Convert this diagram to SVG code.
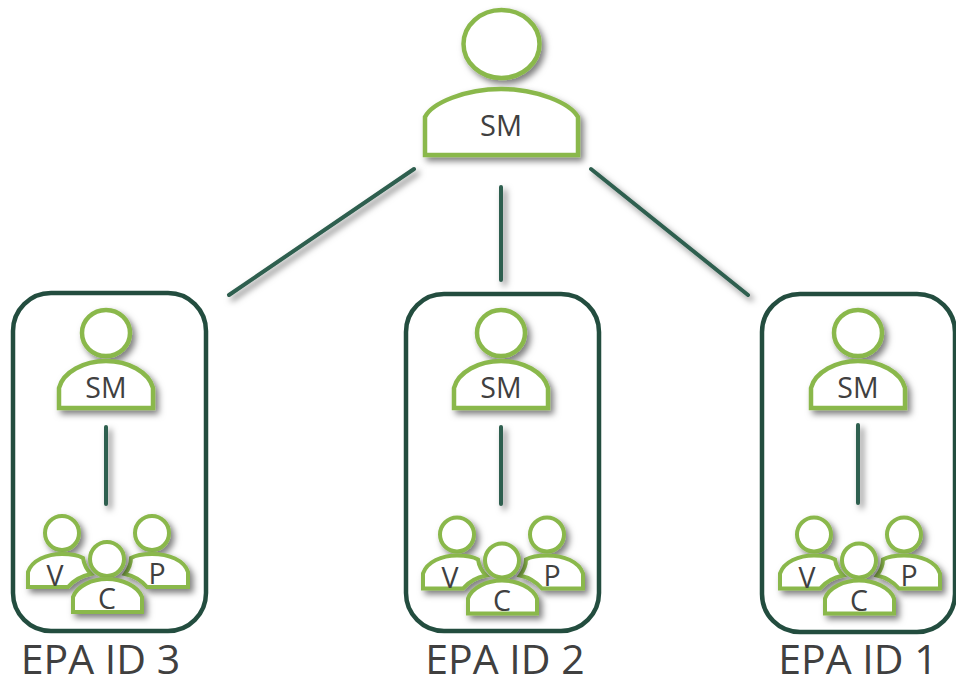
<svg xmlns="http://www.w3.org/2000/svg" width="956" height="679" viewBox="0 0 956 679">
<style>
.p{fill:#fff;stroke:#8ab84c;stroke-width:4.5;stroke-linejoin:miter}
.ps{stroke-width:4}
.box{fill:#fff;stroke:#234d3f;stroke-width:4.5}
.l{fill:none;stroke:#2f5f4f;stroke-width:4;stroke-linecap:round}
text{font-family:"Open Sans","Noto Sans","Liberation Sans",sans-serif;fill:#404040;text-anchor:middle}
.t1{font-size:29px}
.t2{font-size:28.5px}
.t3{font-size:41px}
</style>
<defs>
<filter id="s" filterUnits="userSpaceOnUse" x="0" y="0" width="956" height="679"><feDropShadow dx="3.5" dy="4" stdDeviation="3" flood-color="#000" flood-opacity="0.5"/></filter>
<g id="sm">
<ellipse class="p" cx="106" cy="333" rx="24" ry="23" filter="url(#s)"/>
<path class="p" d="M59 408V388C63 372 84 361 106 361C128 361 149 372 153 388V408Z" filter="url(#s)"/>
<text class="t2" x="106" y="398">SM</text>
</g>
<g id="team">
<circle class="p ps" cx="62" cy="533" r="17" filter="url(#s)"/>
<path class="p ps" d="M28 587V572C32 560 47 554 62 554C70 554 78 555 83 558C84 565 87 570 91 574C81 576 74 580 68 587Z" filter="url(#s)"/>
<text class="t2" x="55" y="586">V</text>
<circle class="p ps" cx="152" cy="533" r="17" filter="url(#s)"/>
<path class="p ps" d="M188 587V572C184 560 169 554 152 554C144 554 136 555 131 558C131 565 128 570 125 574C134 576 141 580 147 587Z" filter="url(#s)"/>
<text class="t2" x="157" y="584">P</text>
<circle class="p ps" cx="107" cy="559" r="17" filter="url(#s)"/>
<path class="p ps" d="M73 612V597C77 586 92 579 107 579C122 579 138 586 142 597V612Z" filter="url(#s)"/>
<text class="t2" x="107" y="609">C</text>
</g>
</defs>
<g id="connectors">
<path class="l" d="M414 169L229 295M501 187V280M591 169L748 295" filter="url(#s)"/>
</g>
<g id="top-sm">
<ellipse class="p" cx="501.5" cy="44" rx="38" ry="34" filter="url(#s)"/>
<path class="p" d="M425 155V117C432 103 465 89 501 89C537 89 570 103 578 117V155Z" filter="url(#s)"/>
<text class="t1" x="501" y="136">SM</text>
</g>
<g id="epa3">
<rect class="box" x="13" y="293" width="193" height="338" rx="38"/>
<use href="#sm"/>
<path class="l" d="M106 427V504" filter="url(#s)"/>
<use href="#team"/>
<text class="t3" x="100.5" y="674">EPA ID 3</text>
</g>
<g id="epa2">
<rect class="box" x="406" y="294" width="193" height="337" rx="38"/>
<use href="#sm" x="395"/>
<path class="l" d="M501 427V504" filter="url(#s)"/>
<use href="#team" x="395" y="1.5"/>
<text class="t3" x="505" y="674">EPA ID 2</text>
</g>
<g id="epa1">
<rect class="box" x="762" y="294" width="193" height="338" rx="38"/>
<use href="#sm" x="752"/>
<path class="l" d="M858 425V503" filter="url(#s)"/>
<use href="#team" x="752" y="1.5"/>
<text class="t3" x="858" y="674">EPA ID 1</text>
</g>
</svg>
